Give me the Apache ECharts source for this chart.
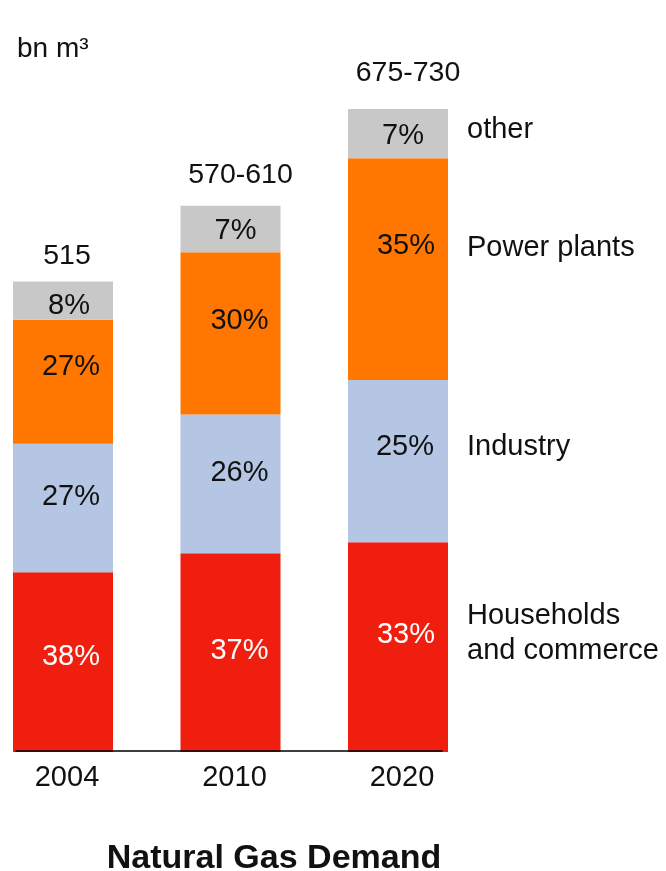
<!DOCTYPE html>
<html>
<head>
<meta charset="utf-8">
<title>Natural Gas Demand</title>
<script src="https://cdn.jsdelivr.net/npm/echarts@6/dist/echarts.min.js"></script>
<style>
  html, body { margin: 0; padding: 0; background: #fff; }
  #chart { width: 666px; height: 871px; }
</style>
</head>
<body>
<div id="chart"></div>
<script>
// Natural gas demand by sector, bn m³
const years = ['2004', '2010', '2020'];
const households = [197, 218, 230];
const industry = [141, 152, 178];
const powerPlants = [136, 178, 243];
const other = [42, 51, 54];

// Share labels printed inside each segment
const householdsShare = ['38%', '37%', '33%'];
const industryShare = ['27%', '26%', '25%'];
const powerShare = ['27%', '30%', '35%'];
const otherShare = ['8%', '7%', '7%'];

// Totals printed above each column
const totalLabels = ['515', '570-610', '675-730'];

const sectorNames = ['Households\nand commerce', 'Industry', 'Power plants', 'other'];

const FONT = "'Liberation Sans', Arial, Helvetica, sans-serif";
const colors = ['#F01E0E', '#B4C6E3', '#FF7700', '#C8C8C8'];

// label nudges (px) for each segment label
const labelNudge = [
  [[8, -5], [9, -2], [8, -12]],
  [[8, -11], [9, -11], [7, -14]],
  [[8, -15], [9, -12], [8, -23]],
  [[6, 5], [5, 2], [5, 2]]
];
const totalNudge = [[4, 2], [10, -4], [10, -9]];
const nameNudge = [-14, -14, -21, -4];

const chart = echarts.init(document.getElementById('chart'), null, { renderer: 'canvas' });

const values = [households, industry, powerPlants, other];
const shares = [householdsShare, industryShare, powerShare, otherShare];

const series = values.map((vals, s) => ({
  name: sectorNames[s],
  type: 'bar',
  stack: 'demand',
  xAxisIndex: 0,
  yAxisIndex: 0,
  barWidth: 100,
  clip: false,
  itemStyle: { color: colors[s] },
  label: {
    show: true,
    position: 'inside',
    fontFamily: FONT,
    fontSize: 29,
    color: s === 0 ? '#ffffff' : '#111111',
    formatter: p => shares[s][p.dataIndex]
  },
  data: vals.map((v, i) => ({ value: v, label: { offset: labelNudge[s][i] } }))
}));

chart.setOption({
  animation: false,
  title: [
    {
      text: 'Natural Gas Demand',
      left: 269,
      textAlign: 'center',
      top: 837,
      textStyle: { fontFamily: FONT, fontSize: 34, fontWeight: 'bold', color: '#111' }
    },
    {
      text: 'bn m³',
      left: 12,
      top: 30,
      textStyle: { fontFamily: FONT, fontSize: 28, fontWeight: 'normal', color: '#111' }
    }
  ],
  grid: [
    { left: 63, right: 268, top: 52, bottom: 119 },
    { left: 16, right: 224, top: 52, bottom: 120 }
  ],
  xAxis: [
    {
      type: 'category',
      gridIndex: 0,
      data: years,
      boundaryGap: false,
      axisLine: { show: false },
      axisTick: { show: false },
      axisLabel: {
        fontFamily: FONT,
        fontSize: 29,
        color: '#111',
        margin: 11,
        padding: [0, 0, 0, 8]
      }
    },
    {
      type: 'value',
      gridIndex: 1,
      min: 0,
      max: 1,
      z: 10,
      axisLine: { show: true, onZero: false, lineStyle: { color: '#000', width: 1.6 } },
      axisTick: { show: false },
      axisLabel: { show: false },
      splitLine: { show: false }
    }
  ],
  yAxis: [
    { type: 'value', gridIndex: 0, min: 0, max: 767.5, show: false },
    { type: 'value', gridIndex: 1, min: 0, max: 1, show: false }
  ],
  series: series
});

// Column totals and sector names placed from the chart's own scales
const graphics = [];
years.forEach((y, i) => {
  const sum = households[i] + industry[i] + powerPlants[i] + other[i];
  const pt = chart.convertToPixel({ xAxisIndex: 0, yAxisIndex: 0 }, [i, sum]);
  graphics.push({
    type: 'text',
    x: pt[0] + totalNudge[i][0],
    y: pt[1] - 27 + totalNudge[i][1],
    style: {
      text: totalLabels[i],
      fontFamily: FONT,
      fontSize: 28.5,
      fill: '#111',
      align: 'center',
      verticalAlign: 'middle'
    }
  });
});

const last = years.length - 1;
let base = 0;
values.forEach((vals, s) => {
  const mid = base + vals[last] / 2;
  base += vals[last];
  const pt = chart.convertToPixel({ xAxisIndex: 0, yAxisIndex: 0 }, [last, mid]);
  graphics.push({
    type: 'text',
    x: pt[0] + 69,
    y: pt[1] + nameNudge[s],
    style: {
      text: sectorNames[s],
      fontFamily: FONT,
      fontSize: 29,
      lineHeight: 35,
      fill: '#111',
      align: 'left',
      verticalAlign: 'middle'
    }
  });
});

chart.setOption({ graphic: graphics });
</script>
</body>
</html>
